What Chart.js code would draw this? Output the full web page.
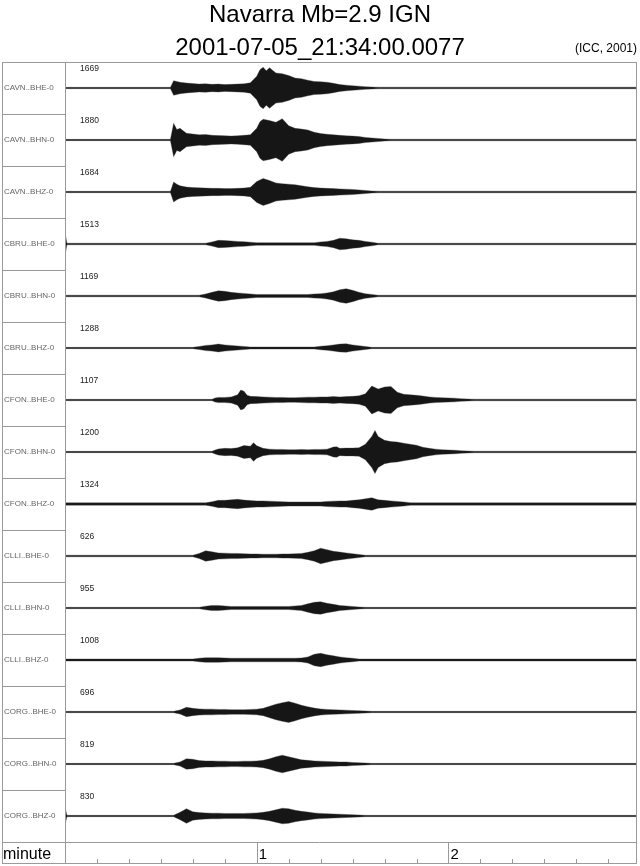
<!DOCTYPE html>
<html>
<head>
<meta charset="utf-8">
<title>Navarra Mb=2.9 IGN</title>
<script src="https://cdn.jsdelivr.net/npm/chart.js@4.4.1/dist/chart.umd.min.js"></script>
<style>
  html, body { margin: 0; padding: 0; background: #fff; }
  canvas { display: block; }
</style>
</head>
<body>
<canvas id="seisChart" width="640" height="866"></canvas>
<script>
// ============================== DATA ==============================
const titleLines = ["Navarra Mb=2.9 IGN", "2001-07-05_21:34:00.0077"];
const creditText = "(ICC, 2001)";
const axisName = "minute";

const stations = [
    "CAVN..BHE-0", "CAVN..BHN-0", "CAVN..BHZ-0",
    "CBRU..BHE-0", "CBRU..BHN-0", "CBRU..BHZ-0",
    "CFON..BHE-0", "CFON..BHN-0", "CFON..BHZ-0",
    "CLLI..BHE-0", "CLLI..BHN-0", "CLLI..BHZ-0",
    "CORG..BHE-0", "CORG..BHN-0", "CORG..BHZ-0"
];
const peakCounts = [1669, 1880, 1684, 1513, 1169, 1288, 1107, 1200, 1324, 626, 955, 1008, 696, 819, 830];

// minute axis: minor tick every 10 s, labelled ticks at whole minutes
const minorTickSeconds = [10, 20, 30, 40, 50, 70, 80, 90, 100, 110, 130, 140, 150, 160, 170];
const minuteTickSeconds = [60, 120];
const minuteTickLabels = ["1", "2"];

// trace envelopes: [seconds, half amplitude in % of half a row]
const cavnBHE = [[0,2.5],[33,2.5],[34,28],[36,22],[38,19],[40,17],[42,15],[44,16],[46,14],[48,15],[50,13],[52,14],[54,15],[56,16],[58,20],[60,45],[61,70],[62,80],[63,66],[64,78],[66,58],[68,55],[70,48],[72,38],[74,36],[76,30],[78,25],[80,24],[82,22],[84,18],[86,13],[88,11],[90,9],[92,7],[94,5],[96,4],[98,3],[180,3]];
const cavnBHN = [[0,2.5],[33,2.5],[34,64],[35,40],[36,45],[38,26],[40,23],[42,20],[44,21],[46,18],[48,17],[50,16],[52,15],[54,16],[56,18],[58,20],[60,45],[61,70],[62,80],[64,75],[66,68],[68,82],[70,55],[72,45],[74,42],[76,38],[78,30],[80,25],[82,22],[84,20],[86,18],[88,16],[90,15],[92,13],[94,10],[96,8],[98,6],[100,4],[102,3],[180,3]];
const cavnBHZ = [[0,2.5],[33,2.5],[34,38],[35,30],[36,24],[38,19],[40,17],[42,16],[44,15],[46,14],[48,14],[50,13],[52,13],[54,14],[56,15],[58,18],[60,40],[62,52],[64,44],[66,35],[68,32],[70,30],[72,28],[74,24],[76,20],[78,17],[80,15],[82,14],[84,13],[86,12],[88,11],[90,10],[92,8],[94,6],[96,4],[98,3],[180,3]];
const cbruBHE = [[0,45],[0.6,3],[44,3],[46,8],[48,14],[50,13],[52,12],[54,10],[56,9],[58,7],[60,5],[78,5],[80,8],[82,10],[84,14],[86,22],[88,20],[90,16],[92,14],[94,10],[96,7],[98,3],[180,3]];
const cbruBHN = [[0,3],[42,3],[44,8],[46,14],[48,20],[50,18],[52,14],[54,12],[56,10],[58,8],[60,6],[76,6],[78,8],[80,9],[82,12],[84,16],[86,24],[88,28],[90,22],[92,14],[94,9],[96,6],[98,3],[180,3]];
const cbruBHZ = [[0,2.5],[40,2.5],[42,6],[44,10],[46,12],[48,15],[50,12],[52,10],[54,8],[56,6],[58,4],[78,4],[80,7],[82,9],[84,12],[86,15],[88,16],[90,12],[92,9],[94,6],[96,2.5],[180,2.5]];
const cfonBHE = [[0,2.5],[46,2.5],[47,8],[48,10],[50,10],[52,12],[54,20],[55,38],[56,34],[57,18],[58,14],[60,13],[62,12],[64,11],[66,10],[68,10],[70,9],[72,9],[74,10],[76,11],[78,11],[80,12],[82,12],[84,13],[86,12],[88,13],[90,14],[92,16],[94,24],[96,54],[98,42],[100,50],[102,52],[104,30],[106,22],[108,20],[110,18],[112,15],[114,12],[116,10],[118,9],[120,8],[122,7],[124,5],[126,4],[128,3],[180,3]];
const cfonBHN = [[0,2.5],[46,2.5],[47,8],[48,12],[50,14],[52,13],[54,16],[56,25],[58,22],[59,36],[60,24],[62,14],[64,11],[66,10],[68,10],[70,9],[72,9],[74,10],[76,9],[78,10],[80,10],[82,11],[84,19],[85,20],[86,14],[88,15],[90,15],[92,16],[94,30],[96,60],[97,83],[98,60],[100,45],[102,40],[104,38],[106,34],[108,30],[110,26],[112,18],[114,14],[116,11],[118,9],[120,8],[122,7],[124,5],[126,4],[128,3],[180,3]];
const cfonBHZ = [[0,4.5],[44,4.5],[46,9],[48,14],[50,14],[52,16],[54,18],[56,15],[58,13],[60,12],[62,12],[64,11],[66,10],[68,9],[70,8],[80,8],[82,10],[84,11],[86,12],[88,12],[90,14],[92,16],[94,20],[96,24],[98,16],[100,14],[102,12],[104,10],[106,8],[108,5],[110,4.5],[180,4.5]];
const clliBHE = [[0,3],[40,3],[42,10],[44,20],[46,16],[48,12],[50,11],[52,10],[54,10],[56,9],[58,8],[60,8],[62,7],[66,7],[68,8],[70,8],[72,9],[74,10],[76,14],[78,20],[80,30],[82,24],[84,18],[86,15],[88,12],[90,9],[92,6],[94,3],[180,3]];
const clliBHN = [[0,2.5],[42,2.5],[44,7],[46,10],[48,10],[50,8],[52,6],[70,6],[72,8],[74,10],[76,16],[78,22],[80,24],[82,18],[84,14],[86,10],[88,8],[90,6],[92,4],[94,2.5],[180,2.5]];
const clliBHZ = [[0,4],[40,4],[42,7],[44,9],[48,9],[50,8],[52,7],[72,7],[74,8],[76,12],[78,22],[80,26],[82,20],[84,16],[86,12],[88,9],[90,7],[92,4],[180,4]];
const corgBHE = [[0,2.5],[34,2.5],[36,8],[38,18],[40,14],[42,12],[44,11],[46,11],[48,10],[50,10],[52,9],[56,9],[58,10],[60,11],[62,14],[64,22],[66,30],[68,36],[70,40],[72,34],[74,26],[76,20],[78,15],[80,12],[82,10],[84,9],[86,8],[88,7],[90,6],[92,5],[94,4],[96,2.5],[180,2.5]];
const corgBHN = [[0,2.5],[34,2.5],[36,8],[38,20],[40,18],[42,13],[44,12],[46,12],[48,11],[50,11],[52,10],[54,10],[56,11],[58,11],[60,12],[62,14],[64,20],[66,28],[68,34],[70,28],[72,22],[74,16],[76,14],[78,12],[80,11],[82,10],[84,9],[86,8],[88,8],[90,6],[92,5],[94,4],[96,2.5],[180,2.5]];
const corgBHZ = [[0,35],[0.6,2.5],[34,2.5],[36,14],[38,28],[40,16],[42,13],[44,12],[46,11],[48,11],[50,10],[56,10],[58,11],[60,12],[62,14],[64,18],[66,24],[68,30],[70,28],[72,22],[74,18],[76,15],[78,12],[80,10],[82,9],[84,8],[86,7],[88,6],[90,5],[92,4],[94,2.5],[180,2.5]];

const traces = [cavnBHE, cavnBHN, cavnBHZ, cbruBHE, cbruBHN, cbruBHZ, cfonBHE, cfonBHN, cfonBHZ,
                clliBHE, clliBHN, clliBHZ, corgBHE, corgBHN, corgBHZ];

// ============================== DATASETS ==============================
// each row is 2 units tall on the y scale, trace baseline in the middle
function buildDatasets() {
    const sets = [];
    traces.forEach((env, i) => {
        const base = 2 * i + 1;
        sets.push({
            label: stations[i] + " +",
            data: env.map(p => ({ x: p[0], y: base - p[1] / 100 })),
            borderColor: "rgba(60,60,60,0.5)", borderWidth: 0.7, fill: false
        });
        sets.push({
            label: stations[i] + " -",
            data: env.map(p => ({ x: p[0], y: base + p[1] / 100 })),
            borderColor: "rgba(60,60,60,0.5)", borderWidth: 0.7,
            backgroundColor: "#161616", fill: "-1"
        });
    });
    return sets;
}

// ============================== FRAME, LABELS, AXIS ==============================
const FONT = '"Liberation Sans", Arial, Helvetica, sans-serif';

const seisFrame = {
    id: "seisFrame",
    beforeDraw(chart) {
        const ctx = chart.ctx;
        ctx.save();
        ctx.fillStyle = "#fff";
        ctx.fillRect(0, 0, chart.width, chart.height);
        ctx.restore();
    },
    afterDraw(chart) {
        const ctx = chart.ctx;
        const area = chart.chartArea;
        const xs = chart.scales.x, ys = chart.scales.y;
        const frameLeft = 2, frameBottom = 863;
        ctx.save();

        // titles
        ctx.fillStyle = "#000";
        ctx.textAlign = "center";
        ctx.textBaseline = "alphabetic";
        ctx.font = "24px " + FONT;
        ctx.fillText(titleLines[0], chart.width / 2, 22);
        ctx.fillText(titleLines[1], chart.width / 2, 55);
        ctx.textAlign = "right";
        ctx.font = "12px " + FONT;
        ctx.fillText(creditText, area.right, 52);

        // frame
        ctx.strokeStyle = "#9a9a9a";
        ctx.lineWidth = 1;
        ctx.strokeRect(frameLeft + 0.5, area.top + 0.5, area.right - frameLeft - 1, frameBottom - area.top);
        ctx.beginPath();
        ctx.moveTo(area.left + 0.5, area.top);
        ctx.lineTo(area.left + 0.5, frameBottom);
        ctx.moveTo(frameLeft, area.bottom + 0.5);
        ctx.lineTo(area.right, area.bottom + 0.5);
        for (let i = 1; i < stations.length; i++) {
            const y = Math.round(ys.getPixelForValue(2 * i)) + 0.5;
            ctx.moveTo(frameLeft, y);
            ctx.lineTo(area.left, y);
        }
        ctx.stroke();

        // station names and peak counts
        ctx.textAlign = "left";
        ctx.textBaseline = "middle";
        stations.forEach((name, i) => {
            ctx.fillStyle = "#666";
            ctx.font = "8px " + FONT;
            ctx.fillText(name, 4, ys.getPixelForValue(2 * i + 1));
            ctx.fillStyle = "#222";
            ctx.font = "8.5px " + FONT;
            ctx.fillText(String(peakCounts[i]), area.left + 15, ys.getPixelForValue(2 * i) + 7);
        });

        // minute axis
        ctx.strokeStyle = "#9a9a9a";
        ctx.beginPath();
        minorTickSeconds.forEach(s => {
            const x = Math.round(xs.getPixelForValue(s)) + 0.5;
            ctx.moveTo(x, frameBottom - 4);
            ctx.lineTo(x, frameBottom);
        });
        minuteTickSeconds.forEach(s => {
            const x = Math.round(xs.getPixelForValue(s)) + 0.5;
            ctx.moveTo(x, area.bottom);
            ctx.lineTo(x, frameBottom);
        });
        ctx.stroke();
        ctx.fillStyle = "#000";
        ctx.textBaseline = "alphabetic";
        ctx.font = "15px " + FONT;
        minuteTickSeconds.forEach((s, k) => {
            ctx.fillText(minuteTickLabels[k], xs.getPixelForValue(s) + 2, 859);
        });
        ctx.font = "16px " + FONT;
        ctx.fillText(axisName, 3, 859);
        ctx.restore();
    }
};

// ============================== CHART ==============================
window.addEventListener("DOMContentLoaded", () => {
    const ctx = document.getElementById("seisChart").getContext("2d");
    new Chart(ctx, {
        type: "line",
        data: { datasets: buildDatasets() },
        options: {
            responsive: false,
            animation: false,
            layout: { padding: { left: 65, right: 3, top: 62, bottom: 24 } },
            elements: { point: { radius: 0 }, line: { tension: 0 } },
            plugins: { legend: { display: false }, tooltip: { enabled: false } },
            scales: {
                x: { type: "linear", display: false, min: 0, max: 179 },
                y: { type: "linear", display: false, min: 0, max: 30, reverse: true }
            }
        },
        plugins: [seisFrame]
    });
});
</script>
</body>
</html>
